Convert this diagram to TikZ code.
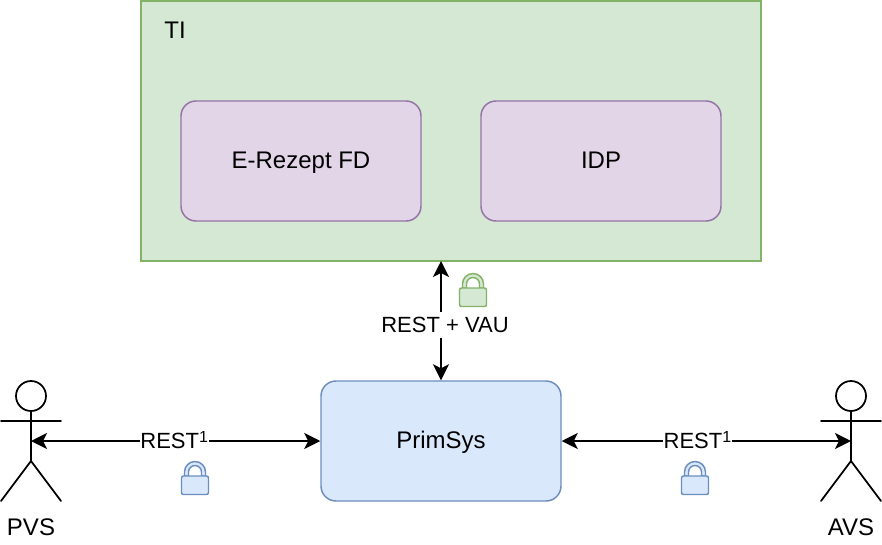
\documentclass[tikz,border=0pt]{standalone}
\usepackage{fontspec}
\setmainfont{Liberation Sans}
\usetikzlibrary{arrows.meta}
\definecolor{greenfill}{HTML}{D5E8D4}
\definecolor{greenline}{HTML}{82B366}
\definecolor{purplefill}{HTML}{E1D5E7}
\definecolor{purpleline}{HTML}{9673A6}
\definecolor{bluefill}{HTML}{DAE8FC}
\definecolor{blueline}{HTML}{6C8EBF}
\tikzset{
  x=0.75pt,y=-0.75pt,
  box/.style={draw,line width=1.1pt,rounded corners=11.25pt,minimum width=180pt,minimum height=90pt,inner sep=0pt,font=\fontsize{18}{20}\selectfont,text height=12.9pt,text depth=1.2pt},
  tibox/.style={draw=greenline,fill=greenfill,line width=1.1pt,minimum width=465pt,minimum height=195pt,inner sep=0pt},
  purplebox/.style={box,draw=purpleline,fill=purplefill},
  bluebox/.style={box,draw=blueline,fill=bluefill},
  txt/.style={font=\fontsize{18}{20}\selectfont,inner sep=0pt},
  conn/.style={line width=1.3pt,{Stealth[length=12pt,width=12pt,inset=3pt]}-{Stealth[length=12pt,width=12pt,inset=3pt]}},
  lab/.style={font=\fontsize{16.5}{18}\selectfont,fill=white,inner xsep=0.5pt,inner ysep=0pt,minimum height=19.5pt,text height=11.8pt,text depth=0pt},
  actorline/.style={line width=1.3pt,line cap=round},
  pics/lock/.style 2 args={code={
    \draw[line width=1.1pt,draw=#1,fill=#2,even odd rule]
      (3.5,15) -- (3.5,11) arc[start angle=180,end angle=360,radius=10.5] -- (24.5,15) -- (20.5,15) -- (20.5,11) arc[start angle=360,end angle=180,radius=6.5] -- (7.5,15) -- cycle;
    \draw[line width=1.1pt,draw=#1,fill=#2,rounded corners=1.5pt] (0.5,15) rectangle (27.5,33.5);
  }}
}
\newcommand{\restsup}{REST\raisebox{5pt}{\fontsize{12}{12}\selectfont 1}}
\begin{document}
\begin{tikzpicture}
\useasboundingbox (0,0) rectangle (882,544);
\node[tibox] (ti) at (451,131) {};
\node[txt] (tilabel) at (175,30) {TI};
\node[purplebox] (erezept) at (301,161) {E-Rezept FD};
\node[purplebox] (idp) at (601,161) {IDP};
\node[bluebox] (prim) at (441,441) {PrimSys};
% actors
\coordinate (pvs) at (31,441);
\coordinate (avs) at (851,441);
\foreach \n/\cx in {pvsfig/31,avsfig/851}{
  \draw[actorline] (\cx,396) circle[radius=15];
  \draw[actorline] (\cx,411) -- (\cx,461) (\cx-30,421) -- (\cx+30,421) (\cx-30,501) -- (\cx,461) -- (\cx+30,501);
}
\node[txt] (pvslabel) at (31,527) {PVS};
\node[txt] (avslabel) at (851,527) {AVS};
% connectors
\coordinate (tibottom) at (441,261);
\draw[conn] (tibottom) -- (prim.north) node[lab,pos=0.533,xshift=3pt] (vau) {REST + VAU};
\draw[conn] (pvs) -- (prim.west) node[lab,pos=0.495] (rl) {\restsup};
\draw[conn] (prim.east) -- (avs) node[lab,pos=0.469] (rr) {\restsup};
% locks
\pic at (459,273) {lock={greenline}{greenfill}};
\pic at (181,461) {lock={blueline}{bluefill}};
\pic at (681,461) {lock={blueline}{bluefill}};
\end{tikzpicture}
\end{document}
